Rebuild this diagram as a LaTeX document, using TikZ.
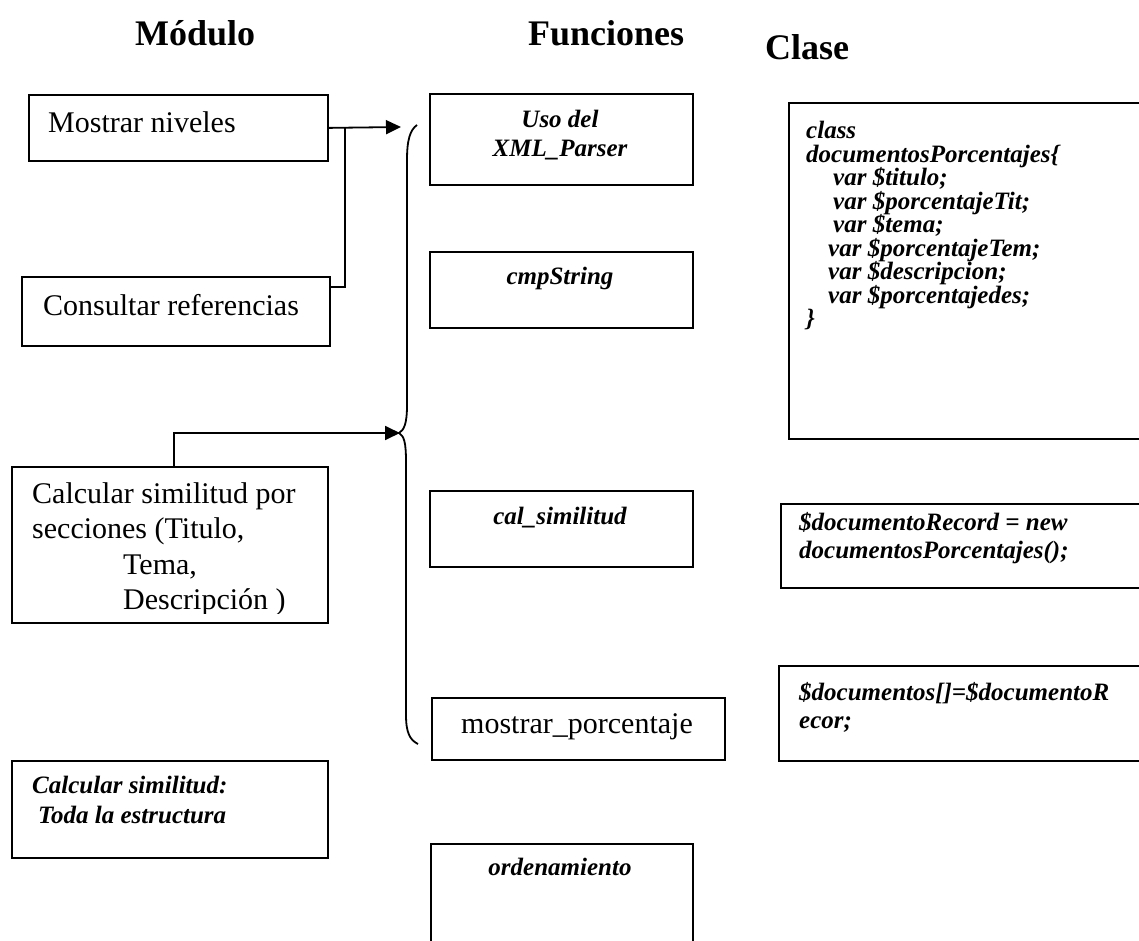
\documentclass[tikz,border=0pt]{standalone}
\usepackage{fontspec}
\setmainfont{Liberation Serif}
\usetikzlibrary{arrows.meta}

\newcommand\regtext{\fontsize{30}{35}\selectfont}
\newcommand\codetext{\fontsize{25}{28}\selectfont\bfseries\itshape}
\newcommand\headtext{\fontsize{36}{40}\selectfont\bfseries}

\begin{document}
\begin{tikzpicture}[x=1pt,y=-1pt,
  box/.style={draw, line width=1.8pt, rectangle, inner sep=0pt, anchor=north west},
  label/.style={inner sep=0pt, anchor=base west},
  clabel/.style={inner sep=0pt, anchor=base},
  conn/.style={line width=1.8pt},
  arr/.style={conn, -{Triangle[length=15pt, width=14pt]}}]

\useasboundingbox (0,0) rectangle (1139,941);
\clip (0,0) rectangle (1139,941);

% column headings
\node[label] (hmod) at (135,46) {\headtext Módulo};
\node[label] (hfun) at (528,46) {\headtext Funciones};
\node[label] (hcla) at (765,60) {\headtext Clase};

% module column
\node[box, minimum width=299pt, minimum height=66pt] (mn) at (28,94) {};
\node[label] (mnt) at (48,133) {\regtext Mostrar niveles};

\node[box, minimum width=308pt, minimum height=69pt] (cr) at (21,276) {};
\node[label] (crt) at (43,315) {\regtext Consultar referencias};

\node[box, minimum width=316pt, minimum height=156pt] (cs) at (11,466) {};
\begin{scope}
  \clip (cs.north west) rectangle ([yshift=10pt]cs.south east);
  \node[label] (cst) at (32,503) {\regtext\vtop{\baselineskip=35.5pt
    \hbox{Calcular similitud por}
    \hbox{secciones (Titulo,}
    \hbox{\hspace{91pt}Tema,}
    \hbox{\hspace{91pt}Descripción )}}};
\end{scope}

\node[box, minimum width=316pt, minimum height=97pt] (ce) at (11,760) {};
\node[label] (cet) at (32,793) {\codetext\vtop{\baselineskip=30pt
    \hbox{Calcular similitud:}
    \hbox{\hspace{6pt}Toda la estructura}}};

% function column
\node[box, minimum width=263pt, minimum height=91pt] (f1) at (429,93) {};
\node[clabel] (f1t) at (560,128) {\codetext\vtop{\baselineskip=29pt
    \halign{\hfil#\hfil\cr Uso del\cr XML\_Parser\cr}}};

\node[box, minimum width=263pt, minimum height=76pt] (f2) at (429,251) {};
\node[clabel] (f2t) at (560,284) {\codetext cmpString};

\node[box, minimum width=263pt, minimum height=76pt] (f3) at (429,490) {};
\node[clabel] (f3t) at (560,524) {\codetext cal\_similitud};

\node[box, minimum width=293pt, minimum height=62pt] (f4) at (431,697) {};
\node[clabel] (f4t) at (577,733) {\regtext mostrar\_porcentaje};

\node[box, minimum width=262pt, minimum height=130pt] (f5) at (430,843) {};
\node[clabel] (f5t) at (560,875) {\codetext ordenamiento};

% class column
\node[box, minimum width=400pt, minimum height=336pt] (cls) at (788,102) {};
\node[label] (clst) at (806,139) {\codetext\vtop{\baselineskip=23.5pt
    \hbox{class}
    \hbox{documentosPorcentajes\{}
    \hbox{\hspace{27pt}var \$titulo;}
    \hbox{\hspace{27pt}var \$porcentajeTit;}
    \hbox{\hspace{27pt}var \$tema;}
    \hbox{\hspace{22pt}var \$porcentajeTem;}
    \hbox{\hspace{22pt}var \$descripcion;}
    \hbox{\hspace{22pt}var \$porcentajedes;}
    \hbox{\}}}};

\node[box, minimum width=400pt, minimum height=84pt] (rec) at (780,503) {};
\node[label] (rect) at (799,530) {\codetext\vtop{\baselineskip=28pt
    \hbox{\$documentoRecord = new}
    \hbox{documentosPorcentajes();}}};

\node[box, minimum width=400pt, minimum height=95pt] (docs) at (778,665) {};
\node[label] (docst) at (799,700) {\codetext\vtop{\baselineskip=28pt
    \hbox{\$documentos[]=\$documentoR}
    \hbox{ecor;}}};

% connectors
\coordinate (jn) at (345,127);
\coordinate (tipA) at (401,127);
\coordinate (tipB) at (400,433);
\draw[arr] (mn.east) -- (tipA);
\draw[conn] ([yshift=-11pt]cr.north east) -| (jn);
\draw[arr] ([xshift=4pt]cs.north) |- (tipB);

% curly brace grouping the functions
\draw[conn] (417,125) .. controls (410,130) and (407,140) .. (407,160)
  -- (407,405) .. controls (407,424) and (404,430) .. (399,433)
  .. controls (404,436) and (406,442) .. (406,462)
  -- (406,715) .. controls (406,733) and (410,740) .. (418,744);

\end{tikzpicture}
\end{document}
